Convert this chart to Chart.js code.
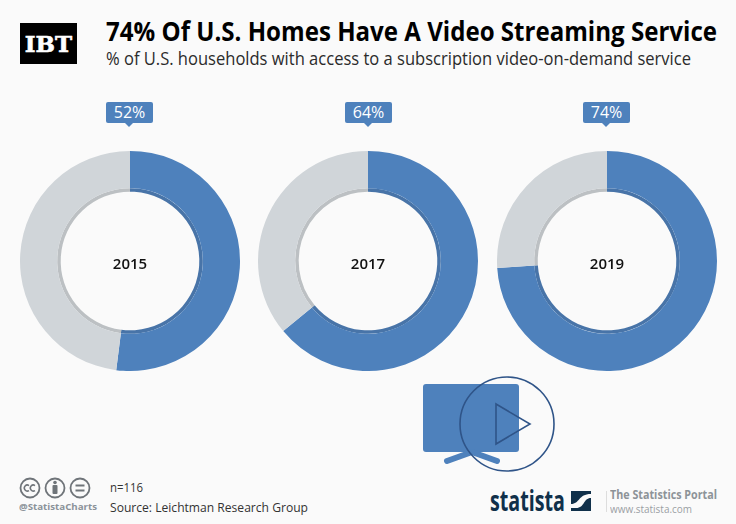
<!DOCTYPE html>
<html>
<head>
<meta charset="utf-8">
<script src="https://cdn.jsdelivr.net/npm/chart.js@4/dist/chart.umd.min.js"></script>
<style>
html,body{margin:0;padding:0;background:#fafafa;}
#page{position:relative;width:736px;height:524px;overflow:hidden;font-family:"Open Sans",sans-serif;background:#fafafa;}
#page div{position:absolute;white-space:nowrap;transform-origin:left top;}
canvas{position:absolute;}
#logo{left:20px;top:23px;width:57px;height:41px;background:#000;color:#fff;font:bold 23px/41px "DejaVu Serif",serif;text-align:center;-webkit-text-stroke:.6px #fff;}
#title{left:106px;top:13px;font-size:26px;line-height:36px;font-weight:700;color:#000;}
#subtitle{left:106px;top:45px;font-size:18px;line-height:26px;color:#2b2b2b;}
.tag{width:47px;height:21px;top:102px;background:#4e81bc;border-radius:2px;color:#fff;font-size:16px;line-height:20px;text-align:center;}
.tag:after{content:"";position:absolute;left:19px;top:21px;border:4px solid transparent;border-top-color:#4e81bc;border-bottom:0;}
.year{width:80px;top:252px;text-align:center;font-size:15px;line-height:22px;font-weight:600;color:#111;}
#n{left:110px;top:478px;font-size:13.5px;line-height:18px;color:#333;}
#source{left:110px;top:498px;font-size:13.5px;line-height:18px;color:#333;}
#handle{left:19px;top:500px;font-size:9.5px;line-height:14px;font-weight:700;color:#8b9299;}
#brand{left:490px;top:481px;font-size:28px;line-height:38px;font-weight:700;color:#10304a;}
#portal{left:610px;top:487px;font-size:12px;line-height:16px;font-weight:700;color:#8d9398;}
#web{left:610px;top:501px;font-size:11.5px;line-height:16px;color:#9a9fa4;}
#rule{left:606px;top:491px;width:1px;height:21px;background:#ddd;}
svg{position:absolute;left:0;top:0;}
</style>
</head>
<body>
<div id="page">
  <svg width="736" height="524">
    <!-- tv icon -->
    <rect x="423" y="384" width="96" height="68" rx="3" fill="#4e81bc"/>
    <path d="M447 461 L472 452 L497 461" fill="none" stroke="#4e81bc" stroke-width="6" stroke-linecap="round" stroke-linejoin="round"/>
    <circle cx="507" cy="424" r="47" fill="none" stroke="#2f5488" stroke-width="1.6"/>
    <path d="M496 404 L530 424 L496 444 Z" fill="none" stroke="#2f5488" stroke-width="1.6"/>
    <!-- cc icons -->
    <g fill="none" stroke="#6f7479" stroke-width="1.8">
      <circle cx="30" cy="488" r="9.5"/><circle cx="55" cy="488" r="9.5"/><circle cx="80" cy="488" r="9.5"/>
      <path d="M29 485.5a3 3 0 1 0 0 5M35 485.5a3 3 0 1 0 0 5" stroke-width="1.5"/>
      <path d="M75.5 485.5h9M75.5 490.5h9" stroke-width="2"/>
    </g>
    <circle cx="55" cy="482.5" r="1.8" fill="#6f7479"/>
    <rect x="52.5" y="485" width="5" height="9" rx="1" fill="#6f7479"/>
    <!-- statista mark -->
    <rect x="571" y="491" width="20" height="20" fill="#10304a"/>
    <path d="M571 508 L571 504 C580 504 578 494 591 494 L591 498 C583 498 585 508 576 508 Z" fill="#fafafa"/>
  </svg>

  <div id="logo">IBT</div>
  <div id="title">74% Of U.S. Homes Have A Video Streaming Service</div>
  <div id="subtitle">% of U.S. households with access to a subscription video-on-demand service</div>

  <canvas id="c0" width="220" height="220"></canvas>
  <canvas id="c1" width="220" height="220"></canvas>
  <canvas id="c2" width="220" height="220"></canvas>

  <div class="tag" style="left:106px">52%</div>
  <div class="tag" style="left:345px">64%</div>
  <div class="tag" style="left:583px">74%</div>

  <div class="year" style="left:90px">2015</div>
  <div class="year" style="left:328px">2017</div>
  <div class="year" style="left:567px">2019</div>

  <div id="handle">@StatistaCharts</div>
  <div id="n">n=116</div>
  <div id="source">Source: Leichtman Research Group</div>
  <div id="brand">statista</div>
  <div id="rule"></div>
  <div id="portal">The Statistics Portal</div>
  <div id="web">www.statista.com</div>
</div>

<script>
const years = ["2015", "2017", "2019"];
const withService = [52, 64, 74];
const withoutService = [48, 36, 26];
const segmentNames = ["With SVOD", "Without SVOD"];

const lefts = [20, 258, 497];

years.forEach((year, i) => {

  const canvas = document.getElementById("c" + i);
  canvas.style.left = lefts[i] + "px";
  canvas.style.top = "151px";

  new Chart(canvas, {
    type: "doughnut",
    data: {
      labels: segmentNames,
      datasets: [
        {
          data: [withService[i], withoutService[i]],
          backgroundColor: ["#4e81bc", "#d0d5d9"],
          borderWidth: 0,
          weight: 37
        },
        {
          // darker inner edge of the ring
          data: [withService[i], withoutService[i]],
          backgroundColor: ["#4874a8", "#bcc0c3"],
          borderWidth: 0,
          weight: 3.5
        }
      ]
    },
    options: {
      responsive: false,
      animation: false,
      cutout: "63%",
      layout: { padding: 0 },
      plugins: {
        legend: { display: false },
        tooltip: { enabled: false }
      }
    }
  });

});

/* squeeze the text to the narrower widths of the original font */
const textWidths = { title: 611, subtitle: 585, source: 198, n: 33, handle: 78, brand: 75, portal: 107, web: 82 };

Object.keys(textWidths).forEach(id => {
  const el = document.getElementById(id);
  el.style.transform = "scaleX(" + textWidths[id] / el.getBoundingClientRect().width + ")";
});
</script>
</body>
</html>
